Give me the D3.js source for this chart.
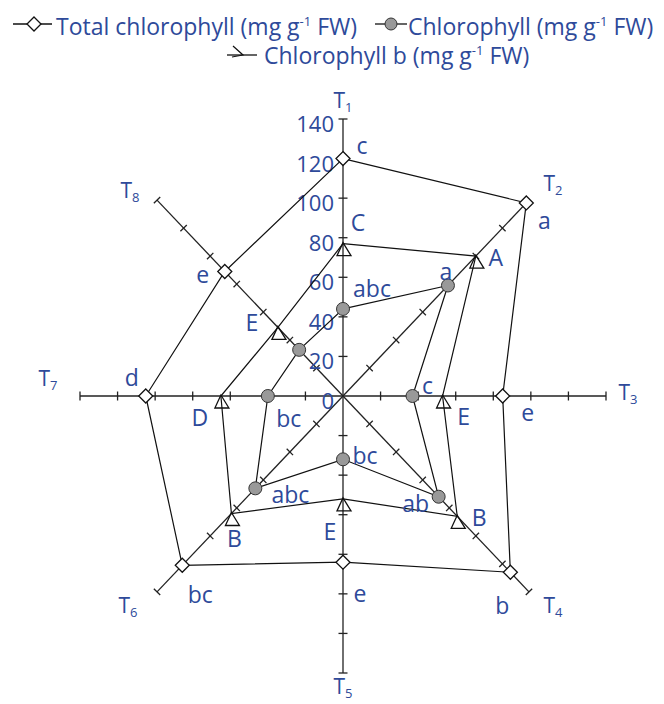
<!DOCTYPE html>
<html lang="en">
<head>
<meta charset="UTF-8">
<title>Chlorophyll radar</title>
<script src="https://d3js.org/d3.v7.min.js"></script>
<style>
  body { margin: 0; background: #fff; }
  text { font-family: "Open Sans", Lato, sans-serif; fill: #2e4a9a; }
</style>
</head>
<body>
<div id="chart"></div>
<script>
const treatments = ["1", "2", "3", "4", "5", "6", "7", "8"];
const ticks = [0, 20, 40, 60, 80, 100, 120, 140];

const totalChl = [120, 138, 85, 126, 84, 121, 105, 89];
const chlA = [44, 79, 37, 72, 32, 66, 40, 33];
const chlB = [77, 100, 53, 86, 52, 84, 65, 49];

const totalLetters = ["c", "a", "e", "b", "e", "bc", "d", "e"];
const chlALetters = ["abc", "a", "c", "ab", "bc", "abc", "bc", ""];
const chlBLetters = ["C", "A", "E", "B", "E", "B", "D", "E"];

// label nudges (px) from each point
const totalOffsets = [[19, -14], [18, 17], [25, 16], [-8, 33], [17, 31], [18, 29], [-14, -19], [-22, 3]];
const chlAOffsets = [[29, -21], [-2, -14], [15, -11], [-23, 6], [22, -4], [35, 6], [21, 22], [0, 0]];
const chlBOffsets = [[15, -22], [20, 1], [21, 20], [22, 1], [-13, 32], [3, 24], [-21, 21], [-26, -5]];

const width = 664, height = 704;
const cx = 343, cy = 396;

const svg = d3.select("#chart").append("svg")
    .attr("width", width).attr("height", height);

const rx = d3.scaleLinear().domain([0, 140]).range([0, 263]);
const ry = d3.scaleLinear().domain([0, 140]).range([0, 277]);
const angle = i => i * Math.PI / 4;
const pos = (i, v) => [cx + rx(v) * Math.sin(angle(i)), cy - ry(v) * Math.cos(angle(i))];

// axes
const axes = svg.append("g").attr("stroke", "#222").attr("stroke-width", 1.3);
treatments.forEach((t, i) => {
    const [x2, y2] = pos(i, 140);
    axes.append("line").attr("x1", cx).attr("y1", cy).attr("x2", x2).attr("y2", y2);
    const a = angle(i);
    const px = Math.cos(a), py = Math.sin(a); // perpendicular
    ticks.slice(1).forEach(v => {
        const [x, y] = pos(i, v);
        axes.append("line")
            .attr("x1", x - 4.5 * px).attr("y1", y - 4.5 * py)
            .attr("x2", x + 4.5 * px).attr("y2", y + 4.5 * py);
    });
});

// tick labels on T1
svg.append("g").selectAll("text").data(ticks).join("text")
    .attr("x", cx - 9)
    .attr("y", d => cy - ry(d) + 4)
    .attr("text-anchor", "end")
    .attr("dominant-baseline", "central")
    .attr("font-size", 22)
    .text(d => d);

// axis names
const namePos = [[343, 100], [553, 183], [628, 392], [553, 605], [343, 686], [128, 605], [48, 378], [130, 190]];
treatments.forEach((t, i) => {
    const tx = svg.append("text")
        .attr("x", namePos[i][0]).attr("y", namePos[i][1])
        .attr("text-anchor", "middle")
        .attr("dominant-baseline", "central")
        .attr("font-size", 21);
    tx.append("tspan").text("T");
    tx.append("tspan").attr("font-size", 13).attr("dy", 7).text(t);
});

const line = d3.line().curve(d3.curveLinearClosed);

const diamond = "M0,-7L7,0L0,7L-7,0Z";
const tri = "M0,-7L8,6L-6,6Z";

function drawSeries(values, marker) {
    const pts = values.map((v, i) => pos(i, v));
    svg.append("path").attr("d", line(pts))
        .attr("fill", "none").attr("stroke", "#111").attr("stroke-width", 1.2);
    const g = svg.append("g");
    pts.forEach(p => {
        if (marker === "circle") {
            g.append("circle").attr("cx", p[0]).attr("cy", p[1]).attr("r", 6.5)
                .attr("fill", "#999").attr("stroke", "#333").attr("stroke-width", 1);
        } else {
            g.append("path").attr("d", marker === "diamond" ? diamond : tri)
                .attr("transform", `translate(${p[0]},${p[1] + (marker === "diamond" ? 0 : 6)})`)
                .attr("fill", marker === "diamond" ? "#fff" : "none")
                .attr("stroke", "#111").attr("stroke-width", 1.3);
        }
    });
    return pts;
}

function drawLetters(pts, letters, offsets) {
    svg.append("g").selectAll("text").data(letters).join("text")
        .attr("x", (d, i) => pts[i][0] + offsets[i][0])
        .attr("y", (d, i) => pts[i][1] + offsets[i][1])
        .attr("text-anchor", "middle")
        .attr("dominant-baseline", "central")
        .attr("font-size", 23)
        .text(d => d);
}

const ptsT = drawSeries(totalChl, "diamond");
const ptsB = drawSeries(chlB, "tri");
const ptsA = drawSeries(chlA, "circle");
drawLetters(ptsT, totalLetters, totalOffsets);
drawLetters(ptsA, chlALetters, chlAOffsets);
drawLetters(ptsB, chlBLetters, chlBOffsets);

// legend
const legend = svg.append("g");
function legendLabel(x, y, name) {
    const t = legend.append("text").attr("x", x).attr("y", y)
        .attr("font-size", 23);
    t.append("tspan").text(name + " (mg g");
    t.append("tspan").attr("font-size", 13).attr("dy", -9).text("-1");
    t.append("tspan").attr("dy", 9).text(" FW)");
}
legend.append("line").attr("x1", 13).attr("x2", 52).attr("y1", 24).attr("y2", 24).attr("stroke", "#111").attr("stroke-width", 1.3);
legend.append("path").attr("d", diamond).attr("transform", "translate(34,24)").attr("fill", "#fff").attr("stroke", "#111").attr("stroke-width", 1.3);
legendLabel(56, 35, "Total chlorophyll");

legend.append("line").attr("x1", 375).attr("x2", 407).attr("y1", 24).attr("y2", 24).attr("stroke", "#111").attr("stroke-width", 1.3);
legend.append("circle").attr("cx", 391).attr("cy", 24).attr("r", 6).attr("fill", "#999").attr("stroke", "#333");
legendLabel(408, 35, "Chlorophyll");

legend.append("line").attr("x1", 227).attr("x2", 257).attr("y1", 55).attr("y2", 55).attr("stroke", "#111").attr("stroke-width", 1.3);
legend.append("path").attr("d", "M233,46L243,55L232,57").attr("fill", "none").attr("stroke", "#111").attr("stroke-width", 1.2);
legendLabel(264, 64, "Chlorophyll b");
</script>
</body>
</html>
